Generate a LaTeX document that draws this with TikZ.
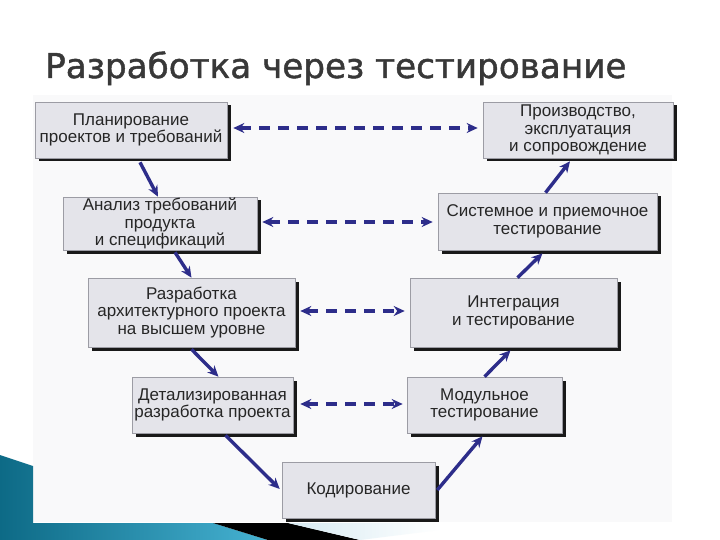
\documentclass[tikz,border=0pt]{standalone}
\usepackage{fontspec}
\setmainfont{Liberation Sans}
\newfontfamily\titlefont[FakeBold=1.3]{DejaVu Sans}
\usetikzlibrary{arrows.meta,calc,shadows}
\definecolor{arrowblue}{HTML}{2D2D8A}
\definecolor{boxfill}{HTML}{E4E4EA}
\definecolor{boxline}{HTML}{9C9CA4}
\definecolor{titlegray}{HTML}{383838}
\definecolor{panel}{HTML}{F9F9FA}
\definecolor{tealdark}{HTML}{0D6A86}
\definecolor{teallight}{HTML}{46B2D2}
\definecolor{paleblue}{HTML}{D6EAF2}
\tikzset{
  stepbox/.style={draw=boxline, line width=0.6pt, fill=boxfill, inner sep=0pt,
    align=center, text=black!85, font=\fontsize{17}{17.5}\selectfont,
    drop shadow={shadow xshift=3.5pt, shadow yshift=-3.5pt, fill=black!90, opacity=1}},
  flow/.style={draw=arrowblue, line width=3.4pt, -{Stealth[length=11pt,width=10pt]}},
  link/.style={draw=arrowblue, line width=3.6pt, dash pattern=on 11pt off 8pt,
    {Stealth[length=11pt,width=10pt]}-{Stealth[length=11pt,width=10pt]}}
}
\begin{document}
\begin{tikzpicture}[x=1pt,y=-1pt]
\useasboundingbox (0,0) rectangle (720,540);
\fill[white] (0,0) rectangle (720,540);
% picture panel
\fill[panel] (33,95) rectangle (672,522);
% bottom-left decoration
\shade[left color=tealdark, right color=teallight] (0,455) -- (33,466) -- (33,523) -- (213,523) -- (268,540) -- (0,540) -- cycle;
\fill[black] (213,523) -- (288,523) -- (360,540) -- (268,540) -- cycle;
\shade[left color=paleblue, right color=white] (288,523) -- (440,523) -- (440,530) -- (360,540) -- cycle;
% title
\node[anchor=base west, inner sep=0pt, font=\titlefont\fontsize{34.2}{40}\selectfont, text=titlegray] (title) at (45,78) {Разработка через тестирование};
% boxes
\node[stepbox, minimum width=192pt, minimum height=56pt] (b1) at (131,130) {Планирование\\проектов и требований};
\node[stepbox, minimum width=194pt, minimum height=53pt] (b2) at (160,223.5) {Анализ требований\\продукта\\и спецификаций};
\node[stepbox, minimum width=207pt, minimum height=69pt] (b3) at (191.5,312.5) {Разработка\\архитектурного проекта\\на высшем уровне};
\node[stepbox, minimum width=161pt, minimum height=56pt] (b4) at (212.5,405) {Детализированная\\разработка проекта};
\node[stepbox, minimum width=153pt, minimum height=56pt] (b5) at (358.5,490) {Кодирование};
\node[stepbox, minimum width=190pt, minimum height=56pt] (b6) at (578,130) {Производство,\\эксплуатация\\и сопровождение};
\node[stepbox, minimum width=219pt, minimum height=57pt] (b7) at (547.5,221.5) {Системное и приемочное\\тестирование};
\node[stepbox, minimum width=207pt, minimum height=69pt] (b8) at (513.5,312.5) {Интеграция\\и тестирование};
\node[stepbox, minimum width=155pt, minimum height=56pt] (b9) at (484.5,405) {Модульное\\тестирование};
% flow arrows (V shape)
\draw[flow] ([xshift=9pt,yshift=-4pt]b1.south) -- ([xshift=-2pt]b2.north);
\draw[flow] ([xshift=15pt,yshift=-2pt]b2.south) -- ([xshift=0pt]b3.north);
\draw[flow] ([xshift=0pt,yshift=-2pt]b3.south) -- ([xshift=6pt]b4.north);
\draw[flow] ([xshift=13pt,yshift=-2pt]b4.south) -- ([xshift=-2pt,yshift=1pt]b5.west);
\draw[flow] ([xshift=2pt]b5.east) -- ([xshift=-2pt,yshift=-3pt]b9.south);
\draw[flow] (b9.north) -- ([xshift=-3pt,yshift=-3pt]b8.south);
\draw[flow] ([xshift=4pt]b8.north) -- ([xshift=-5pt,yshift=-3pt]b7.south);
\draw[flow] ([xshift=-2pt]b7.north) -- ([xshift=-8pt,yshift=-3pt]b6.south);
% dashed links
\draw[link, shorten <=6pt, shorten >=5pt] ([yshift=2pt]b1.east) -- ([yshift=2pt]b6.west);
\draw[link, shorten <=5pt, shorten >=5pt] ([yshift=1.5pt]b2.east) -- ([yshift=-0.5pt]b7.west);
\draw[link, shorten <=5pt, shorten >=5pt] ([yshift=1.5pt]b3.east) -- ([yshift=1.5pt]b8.west);
\draw[link, shorten <=7pt, shorten >=4pt] ([yshift=1pt]b4.east) -- ([yshift=1pt]b9.west);
\end{tikzpicture}
\end{document}
